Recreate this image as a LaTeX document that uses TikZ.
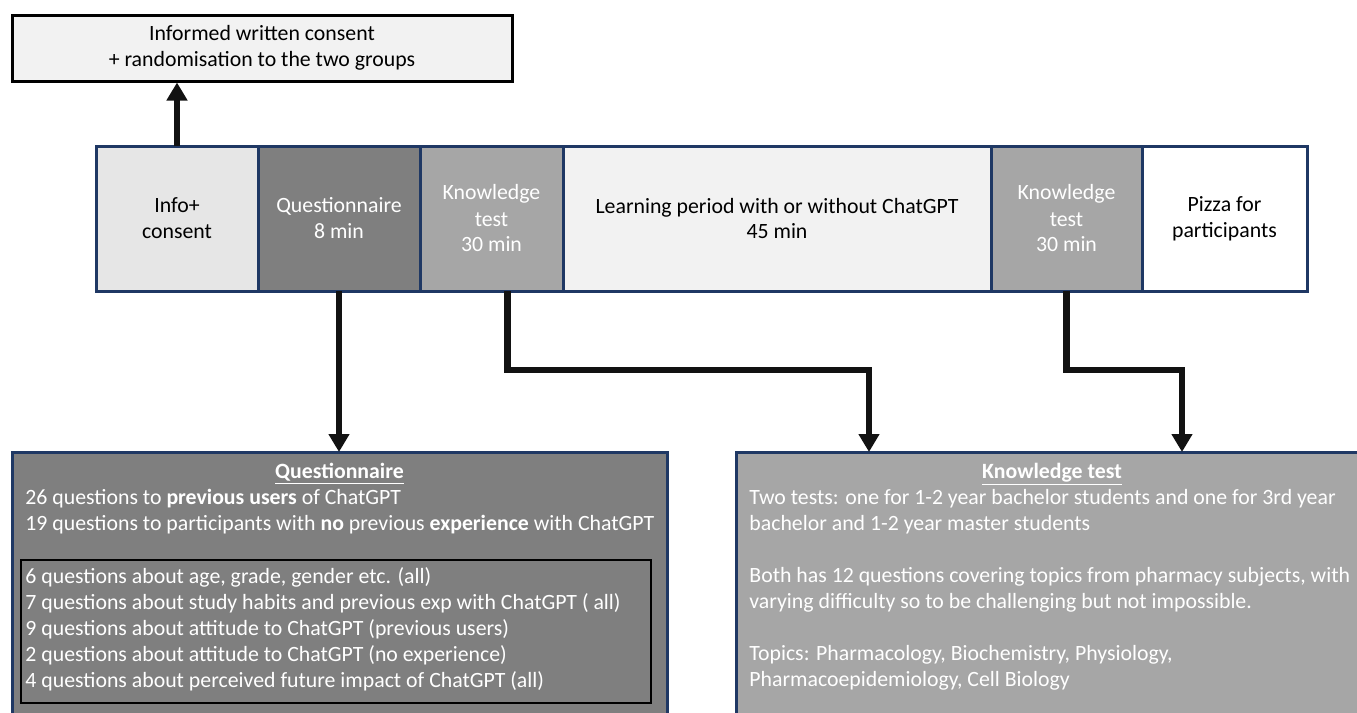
\documentclass[tikz,border=0pt]{standalone}
\usepackage{fontspec}
\setmainfont{Carlito}
\usepackage{xcolor}
\usetikzlibrary{arrows.meta}
\definecolor{navy}{HTML}{1F3864}
\definecolor{darkgrey}{HTML}{7F7F7F}
\definecolor{midgrey}{HTML}{A6A6A6}
\definecolor{lightgrey}{HTML}{E6E6E6}
\definecolor{palegrey}{HTML}{F2F2F2}

\begin{document}
\begin{tikzpicture}[x=0.5pt, y=-0.5pt,
  every node/.style={font=\fontsize{10.9}{13}\selectfont},
  cell/.style={draw=navy, line width=1.5pt, anchor=north west, inner sep=0pt, outer sep=0pt, minimum height=72.5pt, align=center},
  panel/.style={draw=navy, line width=1.5pt, anchor=north west, inner sep=0pt, outer sep=0pt, minimum height=140pt},
  body/.style={anchor=base west, inner sep=0pt, align=left, text=white},
  flow/.style={line width=3.4pt, draw=black!93, -{Triangle[width=10pt,length=9pt]}}]
\useasboundingbox (0,0) rectangle (1357,713);
\node[draw=black, line width=1.5pt, fill=palegrey, minimum width=250pt, minimum height=33pt, inner sep=0pt, align=center](consent) at (262,48) {Informed written consent\\+ randomisation to the two groups};
%
\node[cell, fill=lightgrey, minimum width=81pt](info) at (96,146) {Info+\\consent};
\node[cell, fill=darkgrey, text=white, minimum width=81pt](quest) at (258,146) {Questionnaire\\8 min};
\node[cell, fill=midgrey, text=white, minimum width=71.5pt](knowA) at (420,146) {Knowledge\\test\\30 min};
\node[cell, fill=palegrey, minimum width=214pt](learn) at (563,146) {Learning period with or without ChatGPT\\45 min};
\node[cell, fill=midgrey, text=white, minimum width=75.5pt](knowB) at (991,146) {Knowledge\\test\\30 min};
\node[cell, fill=white, minimum width=82.5pt](pizza) at (1142,146) {Pizza for\\participants};
%
\node[panel, fill=darkgrey, minimum width=327.5pt](qpanel) at (12,452) {};
\node[panel, fill=midgrey, minimum width=312pt](kpanel) at (736,452) {};
\node[draw=black, line width=1pt, anchor=north west, inner sep=0pt, minimum width=315.25pt, minimum height=71.5pt](qlist) at (19.5,559) {};
%
\node[anchor=base, inner sep=0pt, text=white](qtitle) at (339.5,478) {\underline{\textbf{Questionnaire}}};
\node[body](qgroups) at (25,530) {26 questions to \textbf{previous users} of ChatGPT\\19 questions to participants with \textbf{no} previous \textbf{experience} with ChatGPT};
\node[body](qitems) at (25,687) {6 questions about age, grade, gender etc. (all)\\7 questions about study habits and previous exp with ChatGPT ( all)\\9 questions about attitude to ChatGPT (previous users)\\2 questions about attitude to ChatGPT (no experience)\\4 questions about perceived future impact of ChatGPT (all)};
\node[anchor=base, inner sep=0pt, text=white](ktitle) at (1052,478) {\underline{\textbf{Knowledge test}}};
\node[body](ktext) at (749,686) {Two tests: one for 1-2 year bachelor students and one for 3rd year\\bachelor and 1-2 year master students\\[13pt]Both has 12 questions covering topics from pharmacy subjects, with\\varying difficulty so to be challenging but not impossible.\\[13pt]Topics: Pharmacology, Biochemistry, Physiology,\\Pharmacoepidemiology, Cell Biology};
%
\coordinate(kinA) at (869,452);
\coordinate(kinB) at (1182,452);
\draw[flow](info.north) -- (info.north |- consent.south);
\draw[flow](quest.south) -- (quest.south |- qpanel.north);
\draw[flow]([xshift=8pt]knowA.south) -- ++(0,79) -| (kinA);
\draw[flow](knowB.south) -- ++(0,79) -| (kinB);
\end{tikzpicture}
\end{document}
